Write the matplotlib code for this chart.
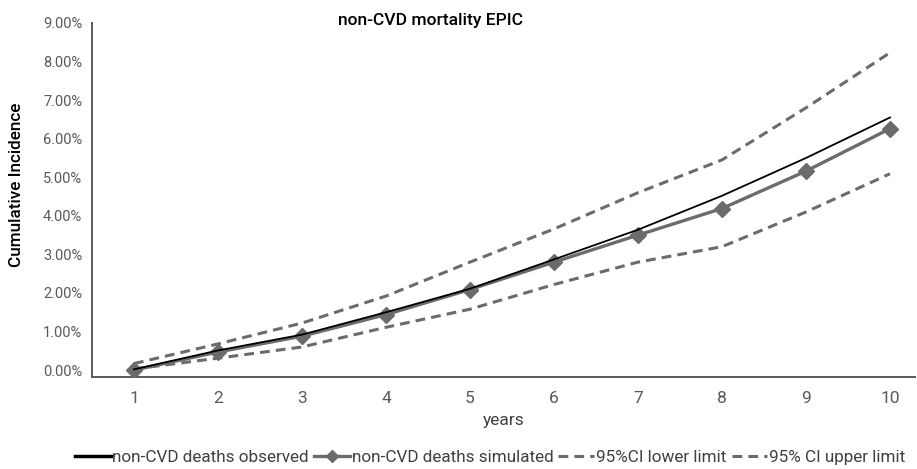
import matplotlib
matplotlib.use('Agg')
import matplotlib.pyplot as plt
from matplotlib.ticker import PercentFormatter

plt.rcParams['font.family'] = ['Roboto', 'DejaVu Sans']

# cumulative incidence (%) by follow-up year
years = [1, 2, 3, 4, 5, 6, 7, 8, 9, 10]
observed = [0.02, 0.51, 0.92, 1.50, 2.11, 2.87, 3.64, 4.52, 5.50, 6.55]
simulated = [0.0, 0.47, 0.88, 1.44, 2.09, 2.80, 3.50, 4.19, 5.16, 6.26]
ci_lower = [0.03, 0.31, 0.60, 1.11, 1.58, 2.22, 2.80, 3.20, 4.10, 5.09]
ci_upper = [0.17, 0.68, 1.22, 1.92, 2.80, 3.66, 4.60, 5.45, 6.80, 8.23]

grey = '#6b6b6b'
axis_grey = '#595959'

fig = plt.figure(figsize=(9.17, 4.69), dpi=100)
ax = fig.add_axes([0.1003, 0.196, 0.8977, 0.755])

ax.plot(years, observed, color='black', lw=1.3, label='non-CVD deaths observed', zorder=4)
ax.plot(years, simulated, color=grey, lw=2.4, marker='D', markersize=8,
        label='non-CVD deaths simulated', zorder=3)
ax.plot(years, ci_lower, color=grey, lw=2.2, ls=(0, (3.2, 2)), label='95%CI lower limit')
ax.plot(years, ci_upper, color=grey, lw=2.2, ls=(0, (3.2, 2)), label='95% CI upper limit')

ax.set_xlim(0.5, 10.3)
ax.set_ylim(-0.18, 9.0)
ax.set_xticks(years)
ax.set_yticks(range(0, 10))
ax.yaxis.set_major_formatter(PercentFormatter(decimals=2))
ax.tick_params(length=0, labelsize=10.5, colors=axis_grey, pad=7)
ax.tick_params(axis='x', pad=10, labelsize=12.5)

for side in ['top', 'right']:
    ax.spines[side].set_visible(False)
for side in ['left', 'bottom']:
    ax.spines[side].set_color(axis_grey)
    ax.spines[side].set_linewidth(1.4)

ax.set_xlabel('years', fontsize=12.5, color='#404040', labelpad=5)
fig.text(17 / 917, 1 - 185 / 469, 'Cumulative Incidence', fontsize=12.3, fontweight='medium',
         rotation=90, ha='center', va='center')
fig.text(431 / 917, 1 - 21 / 469, 'non-CVD mortality EPIC', fontsize=12.6, fontweight='medium',
         ha='center', va='center')

leg = ax.legend(loc='center', bbox_to_anchor=(490 / 917, 1 - 457 / 469),
                bbox_transform=fig.transFigure, fontsize=12.3, ncol=4, frameon=False,
                handlelength=2.1, handletextpad=0.1, columnspacing=0.3,
                labelcolor='#404040', borderaxespad=0, borderpad=0)
leg.legend_handles[0].set_linewidth(2.5)
leg.legend_handles[1].set_markersize(6)

fig.savefig('out.png', dpi=100)
